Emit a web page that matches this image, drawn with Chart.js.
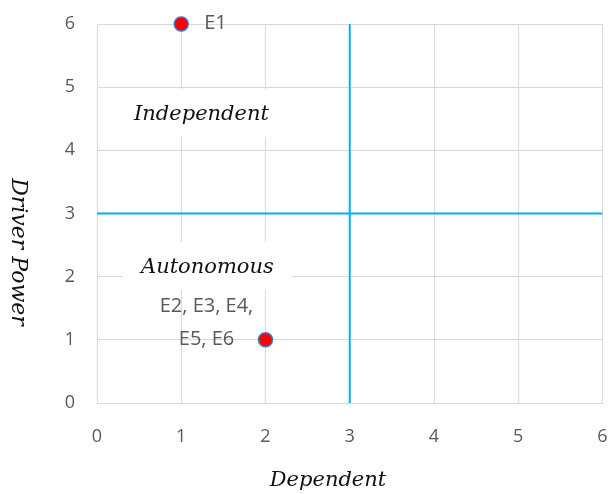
<!DOCTYPE html>
<html>
<head>
<meta charset="utf-8">
<script src="https://cdn.jsdelivr.net/npm/chart.js@4.4.1/dist/chart.umd.min.js"></script>
<style>
html,body{margin:0;padding:0;background:#fff;}
#wrap{width:611px;height:494px;position:relative;}
</style>
</head>
<body>
<div id="wrap"><canvas id="c" width="611" height="494"></canvas></div>
<script>
// ---- data ----
const elementX = [1, 2];
const elementY = [6, 1];
const elementLabels = [["E1"], ["E2, E3, E4,", "E5, E6"]];
const axisTicks = [0, 1, 2, 3, 4, 5, 6];
const dividerX = 3;
const dividerY = 3;
const quadrantNames = ["Independent", "Autonomous"];
const quadrantAt = [[1.24, 4.56], [1.31, 2.14]];
const xTitle = "Dependent";
const yTitle = "Driver Power";

const serif = '"DejaVu Serif", serif';
const sans = '"Open Sans", "Noto Sans", sans-serif';
const grey = '#595959';

const annotPlugin = {
  id: 'annot',
  beforeDatasetsDraw(chart) {
    const ctx = chart.ctx, xs = chart.scales.x, ys = chart.scales.y;
    ctx.save();
    ctx.font = 'italic 21px ' + serif;
    ctx.textAlign = 'center';
    ctx.textBaseline = 'middle';
    quadrantNames.forEach((t, i) => {
      const px = xs.getPixelForValue(quadrantAt[i][0]);
      const py = ys.getPixelForValue(quadrantAt[i][1]);
      const w = ctx.measureText(t).width + 36;
      ctx.fillStyle = '#fff';
      ctx.fillRect(px - w / 2, py - 26, w, 48);
      ctx.fillStyle = '#111';
      ctx.fillText(t, px, py);
    });
    ctx.restore();
  },
  afterDatasetsDraw(chart) {
    const ctx = chart.ctx, xs = chart.scales.x, ys = chart.scales.y;
    ctx.save();
    ctx.font = '20px ' + sans;
    ctx.fillStyle = grey;
    ctx.textBaseline = 'middle';
    let px = xs.getPixelForValue(elementX[0]);
    let py = ys.getPixelForValue(elementY[0]);
    ctx.textAlign = 'left';
    ctx.fillText(elementLabels[0][0], px + 23, py - 1);
    px = xs.getPixelForValue(elementX[1]);
    py = ys.getPixelForValue(elementY[1]);
    ctx.textAlign = 'center';
    ctx.fillText(elementLabels[1][0], px - 59, py - 34);
    ctx.fillText(elementLabels[1][1], px - 59, py - 1);
    ctx.fillStyle = '#111';
    ctx.font = 'italic 21px ' + serif;
    ctx.fillText(xTitle, 328, 481);
    ctx.font = 'italic 22px ' + serif;
    ctx.translate(18, 252);
    ctx.rotate(Math.PI / 2);
    ctx.fillText(yTitle, 0, 0);
    ctx.restore();
  }
};

new Chart(document.getElementById('c'), {
  type: 'scatter',
  data: {
    datasets: [
      {
        label: 'Vertical divider',
        type: 'line',
        data: [{x: dividerX, y: axisTicks[0]}, {x: dividerX, y: axisTicks[axisTicks.length - 1]}],
        borderColor: '#00B0F0', borderWidth: 2, pointRadius: 0, fill: false, order: 2
      },
      {
        label: 'Horizontal divider',
        type: 'line',
        data: [{x: axisTicks[0], y: dividerY}, {x: axisTicks[axisTicks.length - 1], y: dividerY}],
        borderColor: '#00B0F0', borderWidth: 2, pointRadius: 0, fill: false, order: 2
      },
      {
        label: 'Elements',
        data: elementX.map((x, i) => ({x, y: elementY[i]})),
        backgroundColor: '#FF0000', borderColor: '#4472C4', borderWidth: 1.5,
        pointRadius: 7, pointHoverRadius: 7, order: 1, clip: false
      }
    ]
  },
  options: {
    responsive: false,
    animation: false,
    events: [],
    layout: {padding: {top: 24, right: 6, left: 0, bottom: 0}},
    plugins: {legend: {display: false}, tooltip: {enabled: false}},
    scales: {
      x: {
        type: 'linear', min: 0, max: 6,
        afterBuildTicks: s => { s.ticks = axisTicks.map(v => ({value: v})); },
        afterFit: s => { s.height = 91; s.paddingLeft = 0; s.paddingRight = 0; },
        grid: {color: '#d9d9d9', lineWidth: 1, drawTicks: false},
        border: {color: '#d9d9d9'},
        ticks: {color: grey, font: {family: sans, size: 18}, padding: 23, maxRotation: 0}
      },
      y: {
        type: 'linear', min: 0, max: 6,
        afterBuildTicks: s => { s.ticks = axisTicks.map(v => ({value: v})); },
        afterFit: s => { s.width = 97; s.paddingTop = 0; s.paddingBottom = 0; },
        grid: {color: '#d9d9d9', lineWidth: 1, drawTicks: false},
        border: {color: '#d9d9d9'},
        ticks: {color: grey, font: {family: sans, size: 18}, padding: 22}
      }
    }
  },
  plugins: [annotPlugin]
});
</script>
</body>
</html>
